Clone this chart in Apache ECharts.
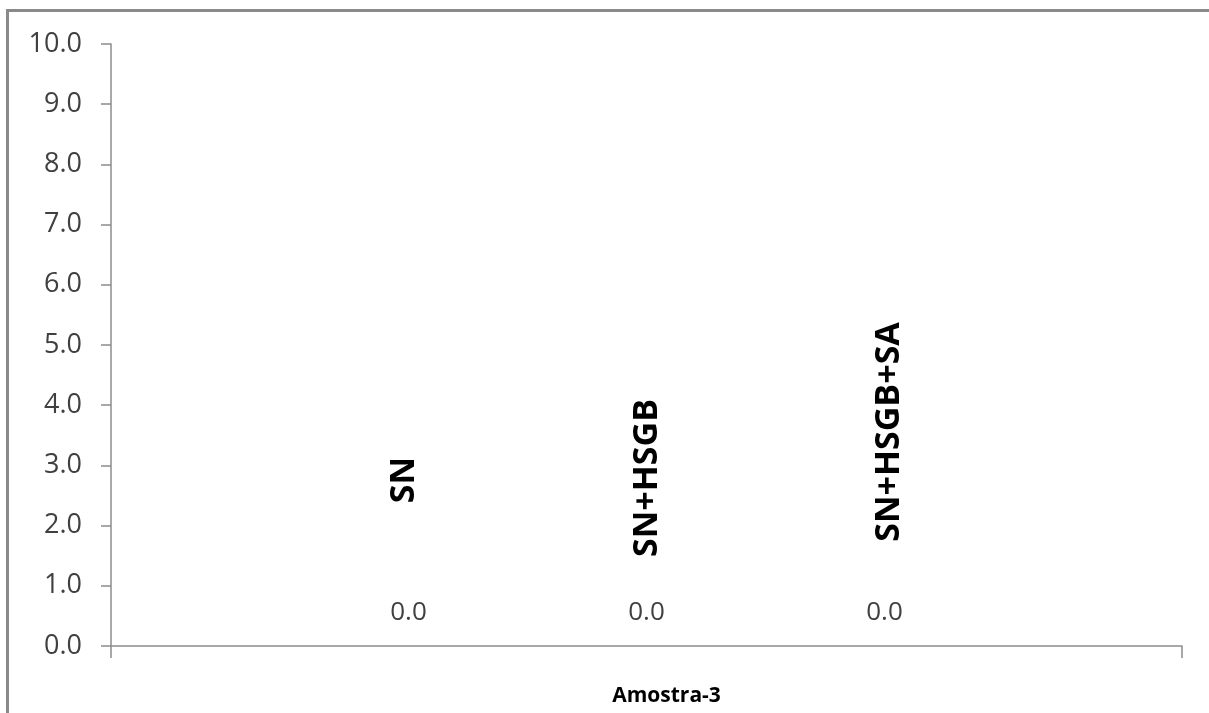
<!DOCTYPE html>
<html>
<head>
<meta charset="utf-8">
<script src="https://cdn.jsdelivr.net/npm/echarts@6/dist/echarts.min.js"></script>
<style>
  html, body { margin: 0; padding: 0; background: #fff; }
  #chart { width: 1209px; height: 713px; }
</style>
</head>
<body>
<div id="chart"></div>
<script>
// ---- data ----
var categories = ['Amostra-3'];
var seriesNames = ['SN', 'SN+HSGB', 'SN+HSGB+SA'];
var seriesValues = [
  [0.0],
  [0.0],
  [0.0]
];
var yTicks = { min: 0, max: 10, interval: 1 };

// ---- style only (name-label offsets in the rotated label frame: [up, right]) ----
var nameLabelOffsets = [[166, -4], [168, 1], [214, 5]];

var FONT = '"Open Sans", "Liberation Sans", sans-serif';
var chart = echarts.init(document.getElementById('chart'), null, { renderer: 'canvas' });

var series = seriesNames.map(function (name, i) {
  return {
    name: name,
    type: 'bar',
    data: seriesValues[i],
    barWidth: 238,
    barGap: '0%',
    itemStyle: { color: '#4f81bd' },
    label: {
      show: true,
      position: 'top',
      distance: 20,
      fontFamily: FONT,
      fontSize: 26,
      color: '#404040',
      formatter: function (p) { return p.value.toFixed(1); }
    },
    markPoint: {
      silent: true,
      symbol: 'rect',
      symbolSize: 1,
      itemStyle: { color: 'rgba(0,0,0,0)' },
      data: [{ coord: [categories[0], seriesValues[i][0]] }],
      label: {
        show: true,
        position: 'inside',
        rotate: 90,
        offset: nameLabelOffsets[i],
        fontFamily: FONT,
        fontSize: 34,
        fontWeight: 'bold',
        color: '#000',
        formatter: name
      }
    }
  };
});

chart.setOption({
  animation: false,
  backgroundColor: '#fff',
  graphic: [{
    type: 'rect',
    silent: true,
    shape: { x: 7.5, y: 10.5, width: 1400, height: 900 },
    style: { fill: 'none', stroke: '#8a8a8a', lineWidth: 3 }
  }],
  grid: { left: 111, right: 27, top: 44, bottom: 67 },
  xAxis: {
    type: 'category',
    data: categories,
    boundaryGap: true,
    axisLine: { show: true, lineStyle: { color: '#8c8c8c', width: 1.5 } },
    axisTick: { show: true, length: 12, interval: 0, alignWithLabel: false, lineStyle: { color: '#8c8c8c', width: 1.5 } },
    axisLabel: { show: false },
    name: categories[0],
    nameLocation: 'middle',
    nameGap: 40,
    nameTextStyle: { fontFamily: FONT, fontSize: 21, fontWeight: 'bold', color: '#000', padding: [0, 0, 0, 40] }
  },
  yAxis: {
    type: 'value',
    min: yTicks.min,
    max: yTicks.max,
    interval: yTicks.interval,
    splitLine: { show: false },
    axisLine: { show: true, lineStyle: { color: '#8c8c8c', width: 1.5 } },
    axisTick: { show: true, length: 10, lineStyle: { color: '#8c8c8c', width: 1.5 } },
    axisLabel: {
      margin: 29,
      fontFamily: FONT,
      fontSize: 27,
      color: '#404040',
      formatter: function (v) { return v.toFixed(1); }
    }
  },
  series: series
});
</script>
</body>
</html>
